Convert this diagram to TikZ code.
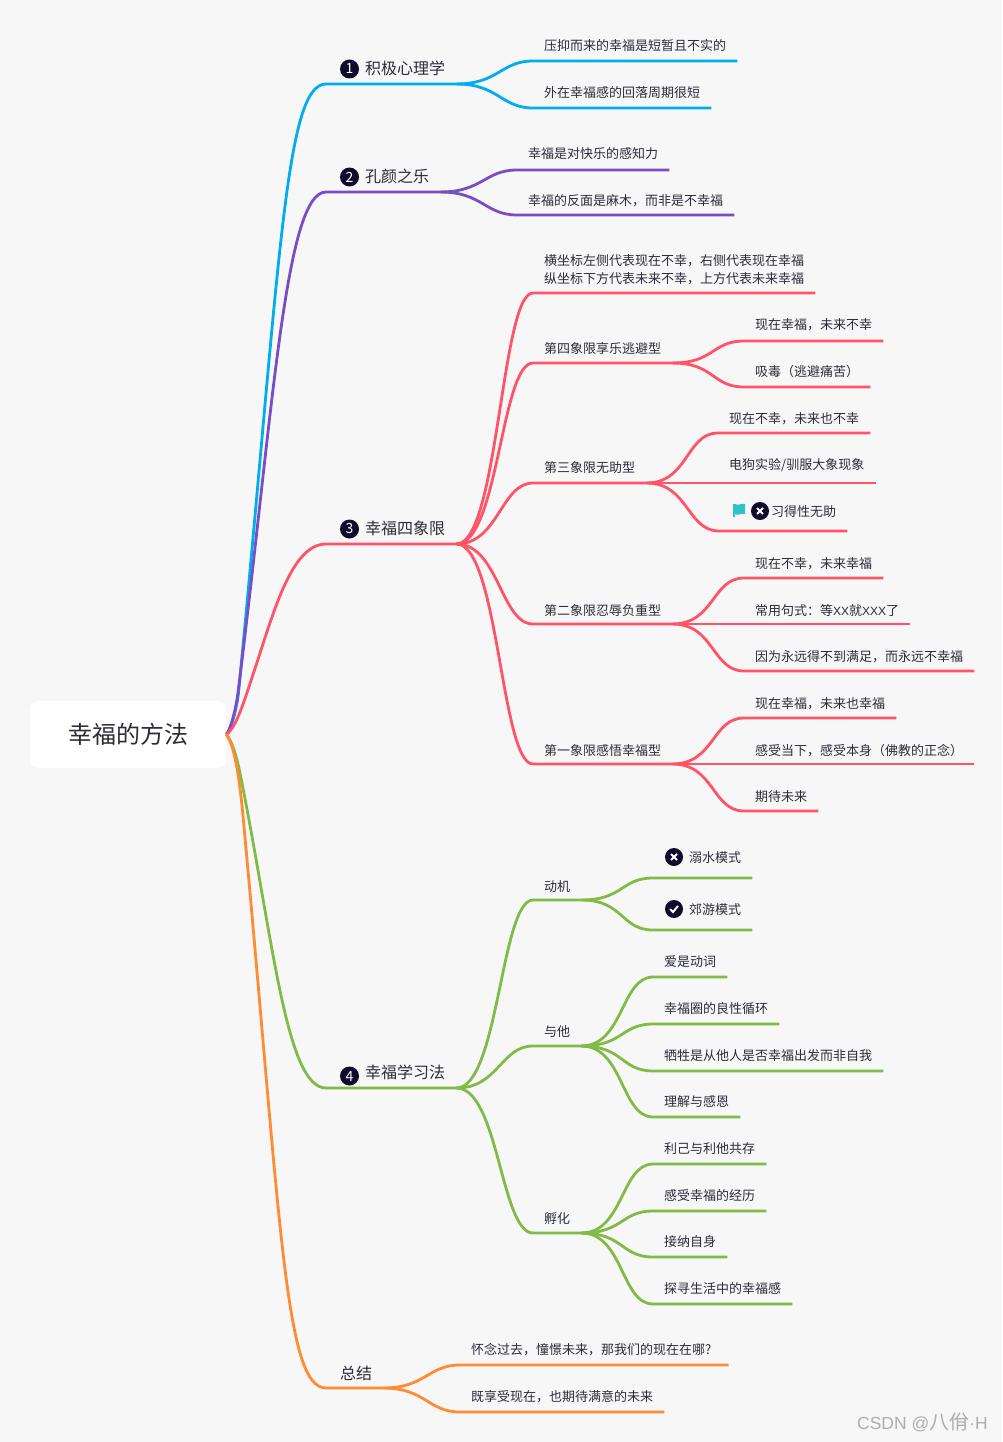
\documentclass[tikz,border=0pt]{standalone}
\usepackage{fontspec}
\setmainfont{Noto Sans CJK SC}
\newfontfamily\latinfont{Liberation Sans}
\usetikzlibrary{positioning}
\definecolor{bgc}{HTML}{F7F7F7}
\definecolor{inkc}{HTML}{2C2C3A}
\definecolor{badgec}{HTML}{0E0B2B}
\definecolor{bluec}{HTML}{00ADEF}
\definecolor{purplec}{HTML}{7A4DC4}
\definecolor{redc}{HTML}{FF5467}
\definecolor{greenc}{HTML}{82BA48}
\definecolor{orangec}{HTML}{FF8B33}
\definecolor{flagc}{HTML}{2CC4C4}
\tikzset{
	leaf/.style={anchor=south west,inner xsep=11pt,inner ysep=10pt,text depth=0pt,text height=10pt,text=inkc,
		font=\fontsize{13}{18}\selectfont},
	stem/.style={leaf,inner ysep=9pt},
	major/.style={leaf,inner ysep=9pt,text height=12pt,font=\fontsize{16}{20}\selectfont},
	badge/.style={circle,fill=badgec,text=white,minimum size=19pt,inner sep=0pt,font=\fontsize{14}{14}\selectfont},
	markdot/.style={circle,fill=badgec,minimum size=18pt,inner sep=0pt},
	branch/.style={line width=2.8pt,draw=#1},
	twig/.style={out=0,in=180,out distance=42pt,in distance=32pt}
}
\begin{document}
\begin{tikzpicture}[x=1pt,y=-1pt]
	\fill[bgc] (0,0) rectangle (1002,1442);
	\node[fill=white,rounded corners=8pt,minimum width=196pt,minimum height=67pt,inner sep=0pt,text=inkc,font=\fontsize{24}{28}\selectfont] (root) at (128,734.5) {幸福的方法};

	% first branch
	\node[major] (n1) at (326,84) {\hspace{28pt}积极心理学};
	\node[badge] (b1) at (349.5,69) {1};
	\node[leaf] (n1a) at (533,61) {压抑而来的幸福是短暂且不实的};
	\node[leaf] (n1b) at (533,108) {外在幸福感的回落周期很短};

	% second branch
	\node[major] (n2) at (326,192) {\hspace{28pt}孔颜之乐};
	\node[badge] (b2) at (349.5,177) {2};
	\node[leaf,inner ysep=11pt] (n2a) at (517,170) {幸福是对快乐的感知力};
	\node[stem] (n2b) at (517,215) {幸福的反面是麻木，而非是不幸福};

	% third branch
	\node[major] (n3) at (326,544) {\hspace{28pt}幸福四象限};
	\node[badge] (b3) at (349.5,529) {3};
	\node[leaf,text depth=2pt,inner ysep=7pt,align=left] (n3a) at (533,293) {横坐标左侧代表现在不幸，右侧代表现在幸福\\纵坐标下方代表未来不幸，上方代表未来幸福};
	\node[stem] (n3b) at (533,363) {第四象限享乐逃避型};
	\node[stem,inner ysep=10pt] (n3c) at (533,483) {第三象限无助型};
	\node[stem,inner ysep=8pt] (n3d) at (533,624) {第二象限忍辱负重型};
	\node[stem,inner ysep=8pt] (n3e) at (533,764) {第一象限感悟幸福型};

	\node[leaf,inner ysep=11pt] (n3b1) at (744,341) {现在幸福，未来不幸};
	\node[leaf] (n3b2) at (744,387) {吸毒（逃避痛苦）};
	\node[stem] (n3c1) at (718,433) {现在不幸，未来也不幸};
	\node[leaf,inner ysep=13pt] (n3c2) at (718,483) {电狗实验/驯服大象现象};
	\node[leaf,inner ysep=14pt] (n3c3) at (719,531) {\hspace{41pt}习得性无助};
	\node[markdot] (x1) at (760,511) {};
	\node[stem] (n3d1) at (744,578) {现在不幸，未来幸福};
	\node[stem,inner ysep=8pt] (n3d2) at (744,624) {常用句式：等{\latinfont\fontsize{12}{18}\selectfont XX}就{\latinfont\fontsize{12}{18}\selectfont XXX}了};
	\node[stem] (n3d3) at (744,671) {因为永远得不到满足，而永远不幸福};
	\node[stem] (n3e1) at (744,718) {现在幸福，未来也幸福};
	\node[stem,inner ysep=8pt] (n3e2) at (744,764) {感受当下，感受本身（佛教的正念）};
	\node[stem] (n3e3) at (744,811) {期待未来};

	% fourth branch
	\node[major] (n4) at (326,1088) {\hspace{28pt}幸福学习法};
	\node[badge] (b4) at (349.5,1076) {4};
	\node[stem,inner ysep=8pt] (n4a) at (533,900) {动机};
	\node[stem] (n4b) at (533,1046) {与他};
	\node[stem] (n4c) at (533,1233) {孵化};

	\node[leaf,inner ysep=15pt] (n4a1) at (653,878) {\hspace{25pt}溺水模式};
	\node[markdot] (x2) at (674,857) {};
	\node[leaf,inner ysep=15pt] (n4a2) at (653,930) {\hspace{25pt}郊游模式};
	\node[markdot] (x3) at (674,909) {};
	\node[leaf] (n4b1) at (653,977) {爱是动词};
	\node[leaf] (n4b2) at (653,1024) {幸福圈的良性循环};
	\node[leaf] (n4b3) at (653,1071) {牺牲是从他人是否幸福出发而非自我};
	\node[leaf] (n4b4) at (653,1117) {理解与感恩};
	\node[leaf] (n4c1) at (653,1164) {利己与利他共存};
	\node[leaf] (n4c2) at (653,1211) {感受幸福的经历};
	\node[leaf] (n4c3) at (653,1257) {接纳自身};
	\node[leaf] (n4c4) at (653,1304) {探寻生活中的幸福感};

	% last branch
	\node[major,inner ysep=8pt] (n5) at (326,1388) {\hspace{3pt}总结};
	\node[leaf] (n5a) at (460,1365) {怀念过去，憧憬未来，那我们的现在在哪?\kern6pt};
	\node[leaf] (n5b) at (460,1412) {既享受现在，也期待满意的未来};

	\node[anchor=east,inner sep=0pt,text=black!32,font=\fontsize{20}{22}\selectfont] (wm) at (988,1422) {{\latinfont\fontsize{17.5}{22}\selectfont CSDN @}八佾{\latinfont\fontsize{17.5}{22}\selectfont ·H}};

	% trunks
	\draw[branch=bluec] (root.east) .. controls +(4,-4) and +(-2,20) .. +(12.5,-43.5) .. controls +(41.5,-430) and +(-41,0) .. (n1.south west) -- (n1.south east);
	\draw[branch=purplec] (root.east) .. controls +(4,-4) and +(-2.5,20) .. +(12,-43.5) .. controls +(35,-280) and +(-41,0) .. (n2.south west) -- (n2.south east);
	\draw[branch=redc] (root.east) .. controls +(10,-6) and +(-8,24) .. +(27,-60.5) .. controls +(20,-60) and +(-35,0) .. (n3.south west) -- (n3.south east);
	\draw[branch=greenc] (root.east) .. controls +(5,5) and +(-4,-20) .. +(14,39.5) .. controls +(33,165) and +(-40,0) .. (n4.south west) -- (n4.south east);
	\draw[branch=orangec] (root.east) .. controls +(8,10) and +(-4,-43) .. +(17,83.5) .. controls +(38,410) and +(-41,0) .. (n5.south west) -- (n5.south east);

	% twigs
	\foreach \n in {n1a,n1b}
		\draw[branch=bluec] (n1.south east) to[twig] (\n.south west) -- (\n.south east);
	\foreach \n in {n2a,n2b}
		\draw[branch=purplec] (n2.south east) to[twig] (\n.south west) -- (\n.south east);
	\foreach \n in {n3a,n3b,n3c,n3d,n3e}
		\draw[branch=redc] (n3.south east) to[twig] (\n.south west) -- (\n.south east);
	\foreach \n in {n3b1,n3b2}
		\draw[branch=redc] (n3b.south east) to[twig] (\n.south west) -- (\n.south east);
	\foreach \n in {n3c1,n3c2,n3c3}
		\draw[branch=redc] (n3c.south east) to[twig] (\n.south west) -- (\n.south east);
	\foreach \n in {n3d1,n3d2,n3d3}
		\draw[branch=redc] (n3d.south east) to[twig] (\n.south west) -- (\n.south east);
	\foreach \n in {n3e1,n3e2,n3e3}
		\draw[branch=redc] (n3e.south east) to[twig] (\n.south west) -- (\n.south east);
	\foreach \n in {n4a,n4b,n4c}
		\draw[branch=greenc] (n4.south east) to[twig] (\n.south west) -- (\n.south east);
	\foreach \n in {n4a1,n4a2}
		\draw[branch=greenc] (n4a.south east) to[twig] (\n.south west) -- (\n.south east);
	\foreach \n in {n4b1,n4b2,n4b3,n4b4}
		\draw[branch=greenc] (n4b.south east) to[twig] (\n.south west) -- (\n.south east);
	\foreach \n in {n4c1,n4c2,n4c3,n4c4}
		\draw[branch=greenc] (n4c.south east) to[twig] (\n.south west) -- (\n.south east);
	\foreach \n in {n5a,n5b}
		\draw[branch=orangec] (n5.south east) to[twig] (\n.south west) -- (\n.south east);

	% marks
	\foreach \n in {x1,x2}
		\draw[white,line width=2pt] (\n.center) +(-3,-3) -- +(3,3) +(-3,3) -- +(3,-3);
	\draw[white,line width=2pt] (x3.center) +(-4,0) -- +(-1,3) -- +(4,-3);
	\fill[flagc] (733,504) -- (735,504) .. controls (738,506) and (741,503) .. (745,504) -- (745,514) .. controls (741,513) and (738,516) .. (735,514) -- (735,517) -- (733,517) -- cycle;
\end{tikzpicture}
\end{document}
